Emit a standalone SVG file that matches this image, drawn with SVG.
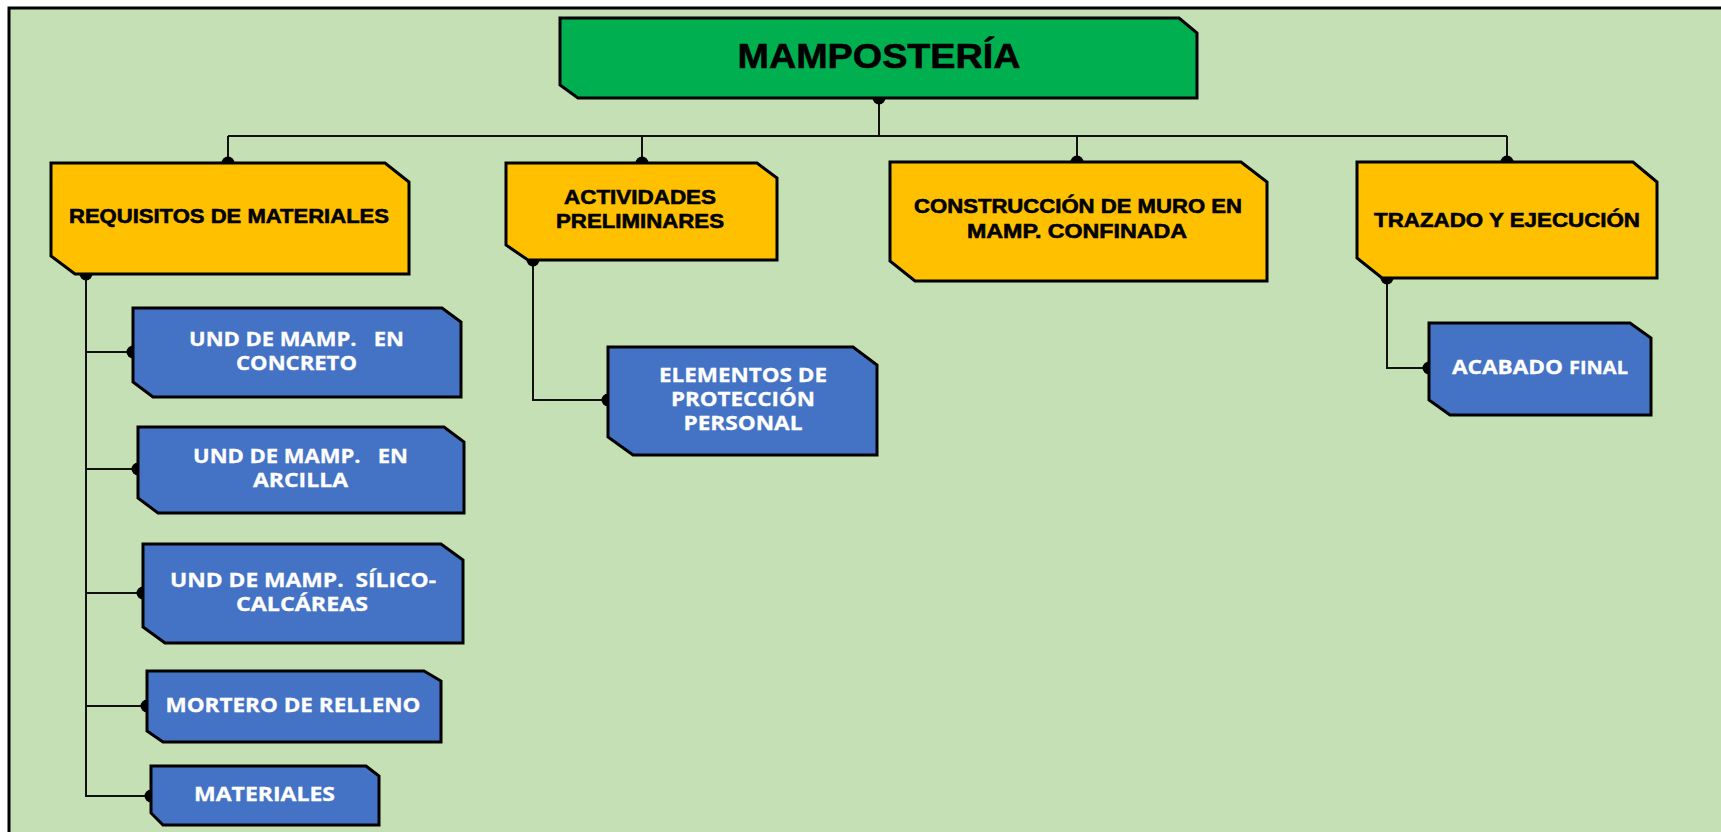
<svg xmlns="http://www.w3.org/2000/svg" width="1721" height="832" viewBox="0 0 1721 832">
<defs>
<style>
.frame{fill:#C5E0B4;stroke:#000;stroke-width:3}
.root{fill:#00B050;stroke:#000;stroke-width:3;stroke-linejoin:miter}
.yel{fill:#FFC000;stroke:#000;stroke-width:3;stroke-linejoin:miter}
.blu{fill:#4472C4;stroke:#000;stroke-width:3;stroke-linejoin:miter}
.con{fill:none;stroke:#111;stroke-width:2}
.dot{fill:#000}
.tb{font-family:"Liberation Sans",Arial,sans-serif;font-weight:bold;fill:#000;stroke:#000;stroke-width:0.6;text-anchor:middle}
.tw{font-family:"Open Sans","Noto Sans",sans-serif;font-weight:bold;fill:#fff;stroke:#fff;stroke-width:0.3;text-anchor:middle}
</style>
</defs>
<rect x="0" y="0" width="1721" height="832" fill="#fff"/>
<rect class="frame" x="9" y="8" width="1730" height="840"/>

<g id="connectors">
<path class="con" d="M879 98 V136 M228 136 H1507 M228 136 V163 M642 136 V163 M1077 136 V162 M1507 136 V162"/>
<path class="con" d="M86 274 V796 H151 M86 352 H133 M86 469 H138 M86 593 H143 M86 706 H147"/>
<path class="con" d="M533 260 V400 H608"/>
<path class="con" d="M1387 278 V368 H1429"/>
<circle class="dot" cx="879" cy="98" r="6.5"/>
<circle class="dot" cx="228" cy="163" r="6.5"/>
<circle class="dot" cx="642" cy="163" r="6.5"/>
<circle class="dot" cx="1077" cy="162" r="6.5"/>
<circle class="dot" cx="1507" cy="162" r="6.5"/>
<circle class="dot" cx="86" cy="274" r="6.5"/>
<circle class="dot" cx="133" cy="352" r="6.5"/>
<circle class="dot" cx="138" cy="469" r="6.5"/>
<circle class="dot" cx="143" cy="593" r="6.5"/>
<circle class="dot" cx="147" cy="706" r="6.5"/>
<circle class="dot" cx="151" cy="796" r="6.5"/>
<circle class="dot" cx="533" cy="260" r="6.5"/>
<circle class="dot" cx="608" cy="400" r="6.5"/>
<circle class="dot" cx="1387" cy="278" r="6.5"/>
<circle class="dot" cx="1429" cy="368" r="6.5"/>
</g>

<g id="root">
<path class="root" d="M560 18 H1179 L1197 33 V98 H578 L560 85 Z"/>
<text class="tb" x="879" y="68" font-size="35" stroke-width="1" textLength="283" lengthAdjust="spacingAndGlyphs">MAMPOSTERÍA</text>
</g>

<g id="requisitos">
<path class="yel" d="M51 163 H385 L409 182 V274 H75 L51 256 Z"/>
<text class="tb" x="229" y="223" font-size="21" textLength="320" lengthAdjust="spacingAndGlyphs">REQUISITOS DE MATERIALES</text>
</g>

<g id="actividades">
<path class="yel" d="M506 163 H757 L777 178 V260 H528 L506 245 Z"/>
<text class="tb" x="640" y="204" font-size="20" textLength="152" lengthAdjust="spacingAndGlyphs">ACTIVIDADES</text>
<text class="tb" x="640" y="228" font-size="20" textLength="168" lengthAdjust="spacingAndGlyphs">PRELIMINARES</text>
</g>

<g id="construccion">
<path class="yel" d="M890 162 H1241 L1267 182 V281 H915 L890 261 Z"/>
<text class="tb" x="1078" y="213" font-size="20" textLength="328" lengthAdjust="spacingAndGlyphs">CONSTRUCCIÓN DE MURO EN</text>
<text class="tb" x="1077" y="238" font-size="20" textLength="220" lengthAdjust="spacingAndGlyphs">MAMP. CONFINADA</text>
</g>

<g id="trazado">
<path class="yel" d="M1357 162 H1633 L1657 182 V278 H1382 L1357 258 Z"/>
<text class="tb" x="1507" y="227" font-size="21" textLength="266" lengthAdjust="spacingAndGlyphs">TRAZADO Y EJECUCIÓN</text>
</g>

<g id="elementos">
<path class="blu" d="M608 347 H853 L877 365 V455 H633 L608 437 Z"/>
<text class="tw" x="743" y="382" font-size="20" textLength="168" lengthAdjust="spacingAndGlyphs">ELEMENTOS DE</text>
<text class="tw" x="743" y="406" font-size="20" textLength="144" lengthAdjust="spacingAndGlyphs">PROTECCIÓN</text>
<text class="tw" x="743" y="430" font-size="20" textLength="119" lengthAdjust="spacingAndGlyphs">PERSONAL</text>
</g>

<g id="acabado">
<path class="blu" d="M1429 323 H1630 L1651 338 V415 H1450 L1429 400 Z"/>
<text class="tw" x="1452" y="374" font-size="20" style="text-anchor:start" textLength="111" lengthAdjust="spacingAndGlyphs">ACABADO</text>
<text class="tw" x="1569" y="374" font-size="17" style="text-anchor:start" textLength="59" lengthAdjust="spacingAndGlyphs">FINAL</text>
</g>

<g id="und-concreto">
<path class="blu" d="M133 308 H442 L461 322 V397 H153 L133 382 Z"/>
<text class="tw" x="296.5" y="346" font-size="20" xml:space="preserve" textLength="215" lengthAdjust="spacingAndGlyphs">UND DE MAMP.   EN</text>
<text class="tw" x="296.5" y="370" font-size="20" textLength="121" lengthAdjust="spacingAndGlyphs">CONCRETO</text>
</g>

<g id="und-arcilla">
<path class="blu" d="M138 427 H444 L464 442 V513 H158 L138 498 Z"/>
<text class="tw" x="300.5" y="463" font-size="20" xml:space="preserve" textLength="215" lengthAdjust="spacingAndGlyphs">UND DE MAMP.   EN</text>
<text class="tw" x="300.5" y="487" font-size="20" textLength="95" lengthAdjust="spacingAndGlyphs">ARCILLA</text>
</g>

<g id="und-silico">
<path class="blu" d="M143 544 H441 L463 560 V643 H165 L143 627 Z"/>
<text class="tw" x="303" y="587" font-size="20" xml:space="preserve" textLength="266" lengthAdjust="spacingAndGlyphs">UND DE MAMP.  SÍLICO-</text>
<text class="tw" x="302" y="611" font-size="20" textLength="132" lengthAdjust="spacingAndGlyphs">CALCÁREAS</text>
</g>

<g id="mortero">
<path class="blu" d="M147 671 H424 L441 681 V742 H163 L147 731 Z"/>
<text class="tw" x="293" y="712" font-size="20" textLength="255" lengthAdjust="spacingAndGlyphs">MORTERO DE RELLENO</text>
</g>

<g id="materiales">
<path class="blu" d="M151 766 H366 L379 776 V825 H163 L151 813 Z"/>
<text class="tw" x="264.5" y="801" font-size="20" textLength="141" lengthAdjust="spacingAndGlyphs">MATERIALES</text>
</g>
</svg>
